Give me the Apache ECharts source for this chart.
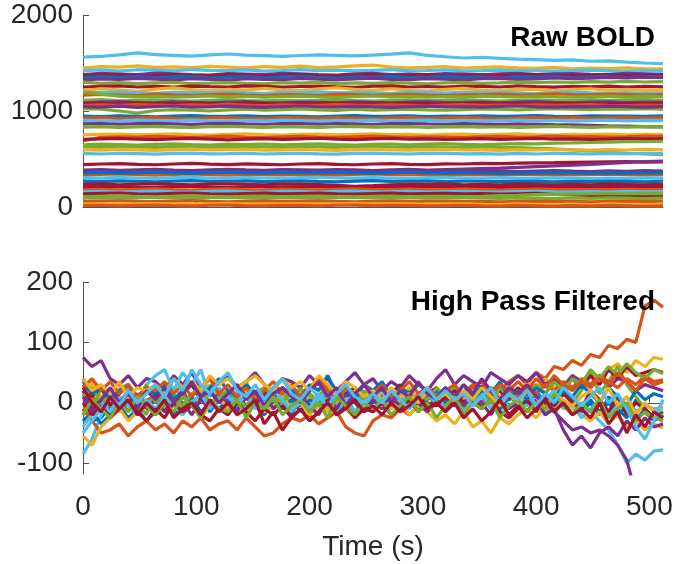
<!DOCTYPE html>
<html>
<head>
<meta charset="utf-8">
<script src="https://cdn.jsdelivr.net/npm/echarts@6/dist/echarts.min.js"></script>
<style>
html,body{margin:0;padding:0;background:#fff;}
#chart{width:674px;height:564px;}
</style>
</head>
<body>
<div id="chart"></div>
<script>
// ---------- DATA ----------
const rawTime = [0,16,32,48,64,80,96,112,128,144,160,176,192,208,224,240,256,272,288,304,320,336,352,368,384,400,416,432,448,464,480,496,512];
const hpTime = [0,8,16,24,32,40,48,56,64,72,80,88,96,104,112,120,128,136,144,152,160,168,176,184,192,200,208,216,224,232,240,248,256,264,272,280,288,296,304,312,320,328,336,344,352,360,368,376,384,392,400,408,416,424,432,440,448,456,464,472,480,488,496,504,512];
const xTickValues = [0,100,200,300,400,500];
const rawTickValues = [0,1000,2000];
const hpTickValues = [-100,0,100,200];

const rawBold = [
[1562,1568,1585,1605,1588,1580,1572,1585,1594,1582,1576,1568,1578,1585,1580,1574,1583,1592,1606,1580,1565,1552,1560,1548,1540,1535,1528,1532,1518,1522,1510,1500,1492],
[1450,1462,1458,1470,1455,1460,1452,1465,1458,1450,1462,1455,1468,1452,1460,1470,1478,1458,1450,1455,1462,1448,1455,1460,1450,1445,1455,1440,1448,1442,1450,1438,1440],
[1420,1428,1415,1430,1425,1418,1432,1424,1420,1428,1415,1422,1430,1420,1426,1418,1424,1430,1418,1422,1428,1416,1420,1425,1418,1422,1415,1420,1426,1418,1412,1420,1415],
[1380,1392,1385,1378,1395,1388,1380,1375,1390,1384,1378,1392,1386,1380,1375,1388,1392,1380,1385,1378,1390,1384,1376,1388,1392,1380,1386,1390,1382,1378,1392,1386,1380],
[1368,1375,1380,1370,1365,1378,1372,1368,1380,1374,1366,1372,1378,1370,1364,1375,1380,1368,1372,1378,1366,1370,1376,1368,1374,1380,1370,1365,1372,1378,1368,1372,1375],
[1345,1358,1350,1362,1348,1355,1360,1345,1352,1358,1346,1355,1362,1350,1344,1356,1352,1360,1348,1354,1362,1350,1356,1345,1358,1352,1362,1348,1355,1360,1350,1358,1362],
[1325,1335,1328,1340,1332,1325,1338,1330,1322,1336,1330,1326,1340,1332,1325,1335,1342,1330,1326,1338,1332,1325,1336,1340,1330,1335,1345,1338,1342,1350,1345,1352,1348],
[1300,1288,1295,1285,1292,1298,1286,1290,1296,1288,1284,1295,1290,1298,1286,1292,1288,1296,1290,1284,1294,1298,1288,1292,1300,1295,1302,1298,1305,1300,1308,1302,1305],
[1250,1258,1262,1250,1256,1248,1260,1254,1250,1262,1256,1248,1255,1260,1252,1246,1258,1262,1250,1255,1248,1260,1256,1250,1262,1254,1248,1258,1252,1260,1250,1256,1252],
[1215,1232,1220,1205,1228,1240,1222,1210,1225,1218,1236,1220,1212,1230,1242,1225,1215,1232,1220,1208,1226,1235,1218,1212,1228,1222,1210,1226,1232,1218,1225,1215,1216],
[1188,1195,1200,1190,1185,1196,1192,1188,1198,1190,1184,1195,1192,1200,1188,1194,1190,1185,1196,1192,1186,1198,1190,1194,1188,1182,1192,1196,1188,1185,1192,1180,1186],
[1165,1172,1168,1160,1175,1168,1162,1170,1176,1165,1160,1172,1168,1164,1175,1170,1162,1168,1174,1166,1160,1172,1168,1175,1165,1170,1178,1172,1168,1175,1170,1165,1172],
[1200,1175,1155,1148,1152,1145,1150,1156,1148,1152,1145,1150,1155,1148,1142,1150,1156,1148,1152,1145,1150,1148,1155,1150,1146,1152,1148,1145,1150,1155,1148,1152,1150],
[1112,1118,1105,1110,1115,1108,1102,1112,1118,1108,1105,1112,1106,1110,1116,1108,1102,1110,1115,1108,1112,1118,1110,1104,1112,1115,1108,1112,1118,1110,1115,1120,1112],
[1085,1092,1098,1088,1084,1095,1090,1086,1092,1098,1088,1085,1094,1090,1086,1095,1090,1084,1092,1096,1088,1090,1094,1086,1092,1098,1090,1085,1092,1095,1088,1092,1090],
[1075,1080,1072,1082,1078,1074,1080,1076,1070,1082,1078,1072,1080,1076,1082,1074,1078,1072,1080,1076,1070,1078,1082,1074,1078,1072,1076,1080,1074,1078,1072,1076,1078],
[1060,1065,1058,1066,1062,1056,1064,1060,1068,1062,1055,1064,1060,1058,1066,1062,1058,1064,1060,1056,1062,1066,1058,1062,1060,1064,1058,1062,1066,1060,1055,1062,1060],
[1025,1018,1000,978,1005,1015,1010,1000,1012,1020,1008,1015,1022,1012,1005,1018,1010,1015,1020,1012,1008,1015,1022,1018,1012,1020,1025,1018,1015,1022,1018,1025,1020],
[1045,1040,1050,1038,1045,1052,1040,1044,1050,1042,1038,1046,1052,1044,1040,1048,1042,1038,1046,1050,1042,1045,1040,1048,1052,1044,1040,1046,1042,1050,1045,1040,1046],
[948,942,950,945,940,948,952,944,946,950,942,948,945,940,948,952,944,946,950,942,948,945,950,944,948,952,945,942,950,946,948,944,950],
[925,930,922,928,932,925,920,928,932,926,922,930,928,924,930,926,920,928,932,924,928,930,925,922,928,932,926,930,924,928,932,926,930],
[902,898,895,905,900,896,904,898,894,902,898,905,900,895,902,898,904,896,900,905,898,902,896,900,904,898,902,895,900,904,898,902,900],
[865,870,862,868,872,866,860,868,872,865,862,870,868,864,870,866,862,868,870,865,862,868,864,860,866,862,858,855,850,845,842,838,835],
[832,838,830,835,840,832,828,836,840,834,830,838,835,830,836,840,832,835,838,830,834,838,832,836,830,835,840,834,830,836,832,838,835],
[752,758,760,752,756,762,754,750,758,762,755,750,758,760,752,756,762,754,758,750,756,760,752,758,762,755,750,758,755,760,752,758,755],
[690,725,732,728,735,730,724,732,738,728,722,730,735,728,725,732,738,730,726,732,728,722,730,735,728,732,738,730,734,728,732,738,735],
[705,710,715,706,702,710,714,706,700,708,712,704,710,716,708,702,710,714,706,710,704,708,712,705,710,714,706,710,704,708,712,706,710],
[648,655,650,645,652,658,650,646,654,650,656,648,652,658,650,645,652,656,648,654,660,652,648,655,660,658,665,668,672,675,680,682,685],
[628,622,630,625,620,628,632,624,620,628,625,622,630,626,620,628,632,625,622,628,624,620,626,622,618,612,605,595,585,572,560,552,545],
[598,592,600,595,590,598,602,594,598,600,592,596,600,594,590,598,602,596,592,598,600,594,596,590,598,594,600,596,592,598,594,600,596],
[558,552,560,555,550,558,562,554,556,560,552,556,560,554,550,558,562,556,552,558,560,554,556,550,558,552,560,556,552,558,554,560,556],
[442,448,452,445,440,448,455,446,442,450,445,440,448,452,444,440,448,452,445,442,450,448,455,452,458,460,462,465,468,470,472,468,470],
[385,390,382,388,392,385,380,388,392,386,382,390,388,384,390,386,380,388,392,385,390,395,400,405,412,420,428,435,445,455,465,472,478],
[372,378,370,375,380,372,368,376,380,374,370,378,375,370,376,380,372,375,378,370,374,378,372,376,370,375,380,374,370,376,372,378,375],
[335,340,345,338,332,340,344,336,332,340,338,334,342,338,332,340,344,336,338,342,334,338,340,336,342,338,334,340,336,342,338,334,338],
[355,360,352,358,362,355,350,358,362,356,352,360,358,354,360,356,350,358,362,355,352,358,354,350,356,352,358,354,350,356,352,358,355],
[305,300,308,302,298,305,310,302,300,306,302,298,305,310,302,300,306,302,298,305,308,302,300,306,302,298,304,300,296,302,298,304,300],
[270,265,272,268,262,270,274,266,268,272,265,268,272,266,262,270,274,266,268,272,265,270,268,264,270,266,262,268,264,270,266,262,268],
[235,240,232,238,242,235,230,238,242,236,232,240,238,234,225,215,222,232,238,235,240,232,236,230,238,234,230,236,232,238,234,230,236],
[208,212,215,208,204,212,216,208,204,210,214,206,210,214,208,204,210,214,206,210,212,206,210,204,208,212,206,210,204,208,212,205,208],
[180,185,178,184,188,180,176,184,188,182,178,186,182,178,184,188,180,182,186,178,182,186,180,176,182,186,180,176,182,178,184,180,182],
[158,162,155,160,165,158,154,162,165,158,155,162,160,156,162,165,158,160,164,156,160,164,158,154,160,164,158,154,160,156,162,158,160],
[138,142,146,138,134,142,146,138,134,140,144,136,140,144,138,134,140,144,136,140,142,136,140,134,138,142,130,125,120,122,118,115,112],
[108,112,115,108,104,112,116,108,104,110,114,106,110,114,108,104,110,114,106,110,112,108,112,118,122,128,132,135,138,140,138,142,140],
[95,98,92,96,100,94,90,98,100,95,92,98,96,92,98,100,94,96,98,92,95,98,94,90,96,92,88,94,90,96,92,88,92],
[58,62,65,58,55,62,66,58,54,60,64,56,60,64,58,54,60,64,56,60,62,56,60,54,58,62,56,60,54,58,62,56,60],
[30,34,28,32,36,30,26,34,36,30,28,34,32,28,34,36,30,32,34,28,30,34,28,26,32,28,24,30,26,32,28,24,28],
[15,18,12,16,20,14,10,18,20,15,12,18,16,12,18,20,14,16,18,12,15,18,12,10,16,12,8,14,10,16,12,8,12]
];

const highPass = [
[-10,-30,-25,-5,5,-15,10,-5, 15,-10,5,20,-5,10,-15,5, 20,0,-10,15,5,-5,25,10, -5,15,0,20,-10,5,15,-5, 10,-5,15,0,20,5,-10,10, 25,5,15,-5,10,20,0,15, -5,10,20,0,-10,15,5,-15, 0,-20,10,-10,-25,5,-15,-30, -20],
[30,10,-5,15,0,20,-10,5, 10,-15,0,15,-5,10,0,-10, 5,15,-5,0,10,-10,5,20, 0,-10,10,5,-15,0,15,-5, 5,-10,0,15,5,-5,10,0, 20,5,15,30,10,25,20,35, 45,30,50,40,60,55,70,62, 80,75,95,90,105,100,160,170, 158],
[-20,35,10,-5,25,30,5,15, 20,0,25,10,-5,15,30,5, -10,10,20,5,15,-5,20,10, 25,5,15,-10,10,20,0,15, 5,20,-5,10,25,5,15,0, 10,25,5,15,0,20,10,30, 15,35,20,40,25,30,45,35, 50,40,55,65,50,70,60,75, 72],
[75,60,70,40,30,45,25,40, 35,20,45,30,50,25,40,30, 45,25,35,50,30,20,40,35, 25,45,30,40,20,35,50,30, 40,20,35,25,45,30,20,40, 55,30,45,35,25,50,40,30, 45,35,50,30,40,25,45,35, 30,45,25,40,35,20,30,25, 20],
[15,-10,25,5,-15,20,0,-20, 25,-5,15,-20,10,30,-10,20, -15,10,35,-5,20,-10,15,0, 25,-15,10,30,-5,15,-20,20, 5,-10,25,0,15,-15,20,-5, 10,25,-10,15,0,20,-15,10, 25,-5,15,-20,10,30,0,20, 50,15,35,60,30,10,-10,-25, -30],
[-85,-60,-20,0,15,25,5,30, 45,55,20,50,30,55,10,25, 0,15,-10,5,-15,10,-5,0, 15,-10,5,20,-5,10,-15,5, 0,15,-10,5,10,-5,20,0, -10,5,15,-5,10,0,-15,5, 10,-5,15,0,-10,5,-20,-5, -15,-30,-45,-70,-100,-85,-95,-80, -78],
[40,10,25,-5,15,30,5,20, 10,25,-5,15,30,5,20,0, 15,30,10,-5,20,5,25,10, 0,20,35,10,-10,15,25,5, 20,0,15,30,10,-5,15,25, 5,20,0,15,-10,10,20,5, 25,10,30,15,35,20,40,25, 45,30,55,40,60,45,50,55, 50],
[-30,-15,-35,-20,-5,-25,-10,-30, -15,0,-20,-5,10,-15,0,-10, 5,-10,10,-5,-20,0,-10,5, -15,5,-5,10,-10,0,15,-5, 0,10,-5,15,0,-10,5,20, 0,10,-5,15,25,5,-10,10, 20,0,15,-5,10,25,5,-10, 5,-15,0,-20,-5,-30,-10,-25, -15],
[-10,-30,-50,-45,-35,-55,-40,-30, -45,-35,-50,-30,-40,-25,-45,-35, -30,-45,-25,-40,-55,-50,-35,-25, -30,-20,-35,-25,-15,-40,-50,-55, -30,-20,-25,-10,-20,-5,-15,0, -10,5,-5,10,0,15,5,20, 10,25,15,30,20,35,25,40, 30,45,35,25,40,30,45,35, 38],
[-55,-70,-40,-25,-10,-30,-15,-5, -20,-10,5,-15,0,-25,-5,10, -10,5,-20,0,-15,-5,10,-10, 0,-20,-5,-15,5,-10,-25,-5, -15,0,-10,5,-20,-5,-15,-30, -20,-35,-15,-40,-30,-50,-25,-35, -20,-10,-25,-5,-15,5,-10,-20, -30,-15,-35,-20,-40,-30,-45,-35, -42],
[20,-10,5,-20,10,-5,15,-10, 5,-15,10,0,-20,5,-10,15, 0,-15,10,-5,15,-10,5,-20, 10,-5,-20,5,-10,15,0,-15, 5,-10,10,-5,15,0,-15,5, -10,10,-5,15,0,-20,5,-10, 0,-15,5,-20,-10,-45,-70,-55, -75,-50,-40,-55,-30,-45,-25,-40, -35],
[10,25,0,15,-5,20,5,30, 0,20,10,-5,15,25,0,10, 20,5,-5,15,25,10,0,20, 5,15,-5,10,25,0,15,5, 15,0,20,10,-5,15,5,25, 10,-5,20,5,15,0,25,10, 20,5,30,15,35,20,40,30, 55,40,60,45,65,50,40,55, 48],
[-40,-20,0,-15,10,-5,-20,5, -10,10,-5,-20,0,15,-10,5, 10,-5,15,-10,0,20,5,-15, 5,-10,15,0,-20,5,10,-5, 15,-5,0,20,-10,5,15,0, -5,10,-15,0,15,-10,5,-20, -5,10,-15,5,20,-10,0,-25, -10,5,-20,-5,10,-15,-5,-10, -8],
[0,-20,-5,-25,-10,5,-15,-30, -10,-25,0,-15,-5,-20,-30,-10, -20,0,-15,-30,-10,-20,-5,-25, -10,-30,-15,5,-20,-5,-25,-10, -15,0,-20,-10,5,-15,0,-5, 10,-5,15,0,-10,5,-15,-25, -10,5,-15,10,-5,15,0,-10, 20,5,-15,10,-20,0,-10,-25, -20],
[35,15,25,5,20,30,10,25, 15,30,5,20,35,10,25,40, 20,10,30,15,5,25,40,20, 10,30,20,45,15,25,5,30, 20,35,10,25,15,30,20,10, 25,10,30,5,20,15,35,10, 20,5,25,15,0,20,10,30, 15,0,25,10,-5,20,5,15, 10],
[25,40,20,35,15,30,10,25, 20,35,15,30,10,25,40,15, 30,10,25,5,20,35,15,30, 10,25,40,20,5,25,15,30, 15,30,10,20,35,15,25,10, 20,30,10,25,35,15,30,20, 35,20,40,25,45,30,20,35, 25,40,30,50,35,20,40,30, 35],
[40,20,30,15,35,10,25,20, 30,15,40,25,35,20,45,30, 40,25,35,45,30,20,40,25, 35,20,45,30,15,35,25,10, 20,5,25,10,15,0,20,5, 15,0,20,5,25,10,-5,15, 0,20,10,-10,15,5,-5,10, 20,0,25,-5,10,-20,0,-15, -10],
[10,-15,5,25,0,15,-10,20, 5,25,0,15,35,10,20,0, 15,30,5,20,-5,15,25,10, 0,20,35,10,25,-5,15,30, 10,25,0,20,10,35,15,5, 25,10,30,15,40,20,5,25, 15,30,10,0,-15,-30,-45,-40, -50,-45,-55,-70,-95,-150,-150,-150, -150],
[-20,5,-10,-25,0,-15,10,-5, -20,0,-15,10,-5,-25,5,-10, -15,5,-25,0,-10,10,-20,-5, 5,-15,0,-25,10,-5,-20,0, -10,5,-20,-5,10,-15,0,-25, -5,10,-20,0,-10,5,-25,-5, 5,-15,0,-10,15,-5,-20,0, -15,5,-25,-10,0,-30,-15,-25, -20],
[-50,-30,-10,10,-5,20,0,15, 30,10,40,20,55,30,15,35, 50,20,10,30,5,25,40,15, 5,25,10,-5,15,30,10,0, 15,0,20,5,-10,10,25,5, 20,5,15,-5,10,25,0,15, 5,20,-5,15,0,25,10,-5, 10,25,0,15,-10,-40,-60,-30, 5],
[25,0,-15,10,-10,5,-20,0, -15,5,-25,-10,0,-20,5,-15, 0,-20,-10,5,-35,-15,-45,-25, -10,-30,-15,0,-20,-10,5,-15, -5,-20,0,-15,-5,10,-10,0, -15,0,-25,-10,-30,-15,5,-20, -5,-25,-10,5,-15,0,-20,-10, -25,0,-35,-15,-50,-20,-40,-15, -25]
];

// ---------- STYLE ----------
const palette = ['#0072BD','#D95319','#EDB120','#7E2F8E','#77AC30','#4DBEEE','#A2142F'];
const rawColorIdx = [5,2,5,3,6,0,3,4,6,2, 5,1,4,4,3,6,1,4,3,0, 1,5,3,4,2,1,6,4,4,2, 5,6,3,3,1,0,5,0,6,6, 1,5,6,4,4,1,2,1];
const FONT = '"Liberation Sans", Arial, Helvetica, sans-serif';
const axisColor = '#555555';
const labelColor = '#262626';
const LW = 3.2;

const series = [];
rawBold.forEach((vals, i) => {
  series.push({
    type: 'line', xAxisIndex: 0, yAxisIndex: 0, symbol: 'none', silent: true,
    data: vals.map((v, k) => [rawTime[k], v]),
    lineStyle: { width: LW, color: palette[rawColorIdx[i]] },
    itemStyle: { color: palette[rawColorIdx[i]] }
  });
});
highPass.forEach((vals, i) => {
  series.push({
    type: 'line', xAxisIndex: 1, yAxisIndex: 1, symbol: 'none', silent: true,
    data: vals.map((v, k) => [hpTime[k], v]),
    lineStyle: { width: LW, color: palette[i % 7] },
    itemStyle: { color: palette[i % 7] }
  });
});

function xAxisCfg(idx, showLabels) {
  return {
    type: 'value', gridIndex: idx, min: 0, max: 512,
    axisLine: { show: true, lineStyle: { color: axisColor, width: 1 } },
    axisTick: { show: true, inside: true, length: 6, customValues: xTickValues, lineStyle: { color: axisColor } },
    axisLabel: { show: showLabels, customValues: xTickValues, margin: 19, fontSize: 28, fontFamily: FONT, color: labelColor,
      formatter: v => (v % 100 === 0 ? String(v) : '') },
    splitLine: { show: false },
    name: showLabels ? 'Time (s)' : '',
    nameLocation: 'middle', nameGap: 59,
    nameTextStyle: { fontSize: 28, fontFamily: FONT, color: labelColor }
  };
}
function yAxisCfg(idx, min, max, ticks) {
  return {
    type: 'value', gridIndex: idx, min: min, max: max,
    axisLine: { show: true, lineStyle: { color: axisColor, width: 1 } },
    axisTick: { show: true, inside: true, length: 6, customValues: ticks, lineStyle: { color: axisColor } },
    axisLabel: { customValues: ticks, margin: 10, fontSize: 28, fontFamily: FONT, color: labelColor,
      formatter: v => (ticks.indexOf(v) >= 0 ? String(v) : '') },
    splitLine: { show: false }
  };
}

const chart = echarts.init(document.getElementById('chart'), null, { renderer: 'canvas' });
chart.setOption({
  animation: false,
  backgroundColor: '#ffffff',
  grid: [
    { left: 83, top: 15, width: 580, height: 192, containLabel: false, outerBoundsMode: 'none' },
    { left: 83, top: 282, width: 580, height: 192, containLabel: false, outerBoundsMode: 'none' }
  ],
  xAxis: [xAxisCfg(0, false), xAxisCfg(1, true)],
  yAxis: [yAxisCfg(0, 0, 2000, rawTickValues), yAxisCfg(1, -118, 200, hpTickValues)],
  series: series,
  graphic: [
    { type: 'text', x: 655, y: 24, z: 100, style: { text: 'Raw BOLD', textAlign: 'right', textVerticalAlign: 'top', font: 'bold 28px ' + FONT, fill: '#000' } },
    { type: 'text', x: 655, y: 288, z: 100, style: { text: 'High Pass Filtered', textAlign: 'right', textVerticalAlign: 'top', font: 'bold 28px ' + FONT, fill: '#000' } }
  ]
});
</script>
</body>
</html>
